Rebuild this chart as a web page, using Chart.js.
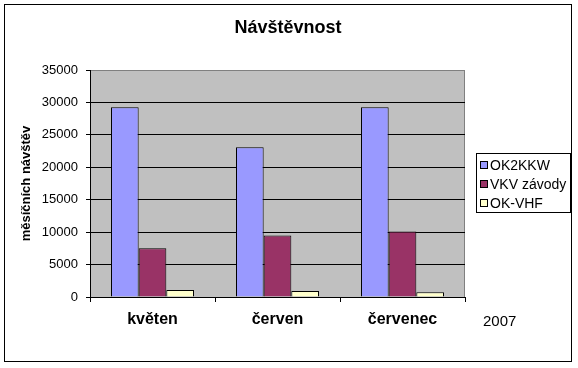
<!DOCTYPE html>
<html>
<head>
<meta charset="utf-8">
<script src="https://cdn.jsdelivr.net/npm/chart.js@4.4.1/dist/chart.umd.min.js"></script>
<style>
    html, body { margin: 0; padding: 0; background: #fff; }
    #wrap { width: 578px; height: 368px; position: relative; }
</style>
</head>
<body>
<div id="wrap"><canvas id="myChart" width="578" height="368"></canvas></div>
<script>
// chart data
var months = ['květen', 'červen', 'červenec'];
var seriesNames = ['OK2KKW', 'VKV závody', 'OK-VHF'];
var ok2kkw = [29250, 23100, 29250];
var vkvZavody = [7500, 9500, 10100];
var okVhf = [1080, 920, 730];
var yTicks = [0, 5000, 10000, 15000, 20000, 25000, 30000, 35000];
var seriesColors = ['#9999FF', '#993366', '#FFFFCC'];
var chartTitle = 'Návštěvnost';
var yearNote = '2007';

var FONT = '"Liberation Sans", Arial, sans-serif';
Chart.defaults.font.family = FONT;
Chart.defaults.color = '#000';

// background, plot area, frame, title, legend box and the year note
var excelLook = {
    id: 'excelLook',
    beforeDraw: function (chart) {
        var ctx = chart.ctx, a = chart.chartArea;
        ctx.save();
        ctx.fillStyle = '#fff';
        ctx.fillRect(0, 0, chart.width, chart.height);
        ctx.fillStyle = '#C0C0C0';
        ctx.fillRect(a.left, a.top, a.right - a.left, a.bottom - a.top);
        ctx.strokeStyle = '#808080';
        ctx.lineWidth = 1;
        ctx.strokeRect(a.left + 0.5, a.top + 0.5, a.right - a.left - 1, a.bottom - a.top);
        ctx.restore();
    },
    afterDraw: function (chart) {
        var ctx = chart.ctx;
        ctx.save();
        // outer frame
        ctx.strokeStyle = '#000';
        ctx.lineWidth = 1;
        ctx.strokeRect(4.5, 4.5, 567, 357);

        // title (centred over the whole chart, not the plot area)
        ctx.fillStyle = '#000';
        ctx.font = 'bold 18px ' + FONT;
        ctx.textAlign = 'center';
        ctx.textBaseline = 'middle';
        ctx.fillText(chartTitle, 288, 28);

        // legend
        ctx.strokeRect(476.5, 153.5, 94, 59);
        ctx.font = '14px ' + FONT;
        ctx.textAlign = 'left';
        chart.data.datasets.forEach(function (ds, i) {
            var y = 165 + i * 19;
            ctx.fillStyle = ds.backgroundColor;
            ctx.fillRect(480.5, y - 3.5, 7, 7);
            ctx.strokeStyle = '#000';
            ctx.strokeRect(480.5, y - 3.5, 7, 7);
            ctx.fillStyle = '#000';
            ctx.fillText(ds.label, 490, y + 1);
        });

        // year next to the category labels
        ctx.font = '15px ' + FONT;
        ctx.fillText(yearNote, 483, 322);
        ctx.restore();
    }
};

function createChart() {
    var ctx = document.getElementById('myChart').getContext('2d');
    new Chart(ctx, {
        type: 'bar',
        data: {
            labels: months,
            datasets: [
                { label: seriesNames[0], data: ok2kkw, backgroundColor: seriesColors[0] },
                { label: seriesNames[1], data: vkvZavody, backgroundColor: seriesColors[1] },
                { label: seriesNames[2], data: okVhf, backgroundColor: seriesColors[2] }
            ]
        },
        options: {
            responsive: false,
            animation: false,
            layout: { padding: { left: 0, right: 113, top: 70, bottom: 0 } },
            datasets: {
                bar: {
                    borderColor: '#000',
                    borderWidth: 1,
                    categoryPercentage: 0.664,
                    barPercentage: 1
                }
            },
            plugins: {
                legend: { display: false },
                tooltip: { enabled: false },
                title: { display: false }
            },
            scales: {
                x: {
                    grid: {
                        display: true,
                        drawOnChartArea: false,
                        drawTicks: true,
                        tickLength: 5,
                        tickColor: '#000',
                        offset: true
                    },
                    border: { color: '#000', width: 1 },
                    ticks: {
                        font: { size: 16, weight: 'bold' },
                        padding: 8,
                        maxRotation: 0
                    },
                    afterFit: function (scale) { scale.height = 71; }
                },
                y: {
                    min: 0,
                    max: 35000,
                    afterBuildTicks: function (scale) {
                        scale.ticks = yTicks.map(function (v) { return { value: v }; });
                    },
                    grid: {
                        color: function (c) { return c.tick && c.tick.value === 35000 ? '#808080' : '#000'; },
                        tickColor: '#000',
                        tickLength: 4,
                        lineWidth: 1
                    },
                    border: { color: '#000', width: 1 },
                    ticks: {
                        font: { size: 13 },
                        padding: 8,
                        callback: function (value) { return String(value); }
                    },
                    title: {
                        display: true,
                        text: 'měsíčních návštěv',
                        font: { size: 13, weight: 'bold' },
                        padding: { top: 19, bottom: 0 }
                    },
                    afterFit: function (scale) { scale.width = 90; }
                }
            }
        },
        plugins: [excelLook]
    });
}

createChart();
</script>
</body>
</html>
